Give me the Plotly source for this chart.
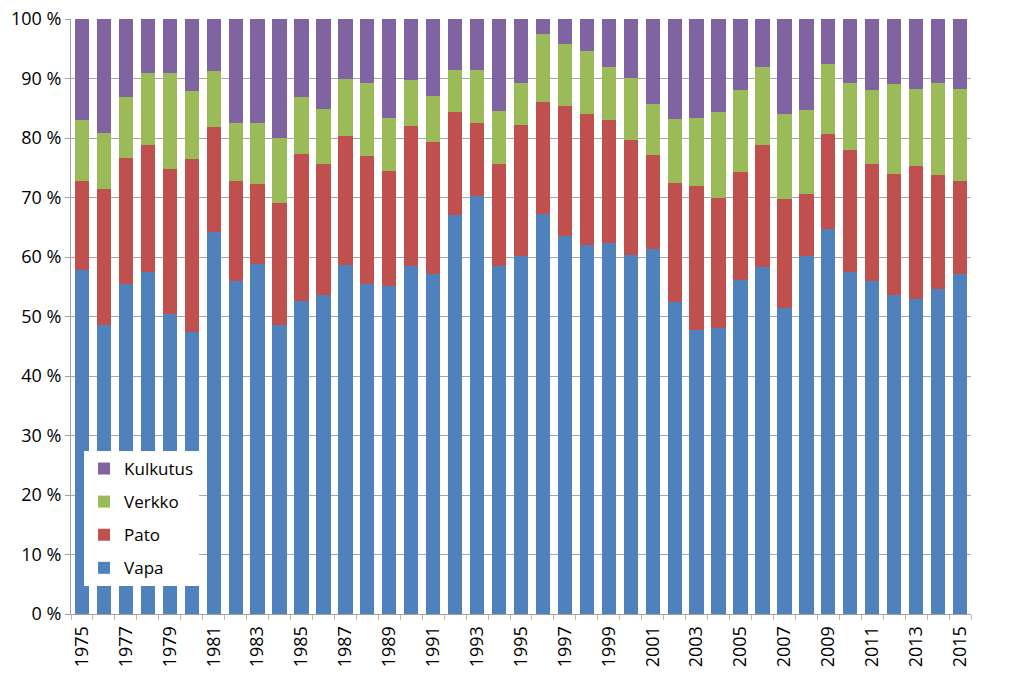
import plotly.graph_objects as go

years = list(range(1975, 2016))
# cumulative tops (percent)
vapa_top = [57.8, 48.5, 55.5, 57.5, 50.5, 47.4, 64.2, 56.0, 58.9, 48.5,
            52.6, 53.6, 58.6, 55.5, 55.1, 58.5, 57.1, 67.1, 70.3, 58.5,
            60.2, 67.2, 63.6, 62.0, 62.3, 60.3, 61.3, 52.5, 47.7, 48.0,
            56.1, 58.4, 51.5, 60.2, 64.7, 57.5, 55.9, 53.6, 52.9, 54.6, 57.1]
pato_top = [72.8, 71.4, 76.6, 78.8, 74.8, 76.4, 81.9, 72.8, 72.3, 69.0,
            77.3, 75.7, 80.4, 76.9, 74.5, 82.0, 79.4, 84.3, 82.6, 75.7,
            82.2, 86.1, 85.3, 84.1, 83.0, 79.7, 77.2, 72.5, 72.0, 70.0,
            74.3, 78.8, 69.8, 70.6, 80.6, 78.0, 75.7, 73.9, 75.3, 73.7, 72.8]
verkko_top = [83.0, 80.8, 86.9, 90.9, 90.9, 87.9, 91.3, 82.6, 82.5, 80.0,
              86.9, 84.9, 89.9, 89.3, 83.4, 89.7, 87.1, 91.4, 91.4, 84.5,
              89.3, 97.4, 95.8, 94.6, 91.9, 90.1, 85.7, 83.2, 83.4, 84.4,
              88.1, 91.9, 84.0, 84.7, 92.4, 89.2, 88.1, 89.1, 88.2, 89.3, 88.2]

vapa = vapa_top
pato = [p - v for p, v in zip(pato_top, vapa_top)]
verkko = [g - p for g, p in zip(verkko_top, pato_top)]
kulkutus = [100 - g for g in verkko_top]

series = [("Vapa", vapa, "#4F81BD", 4), ("Pato", pato, "#C0504D", 3),
          ("Verkko", verkko, "#9BBB59", 2), ("Kulkutus", kulkutus, "#8064A2", 1)]

fig = go.Figure()
for name, vals, col, rank in series:
    fig.add_trace(go.Bar(x=years, y=vals, name=name, marker_color=col,
                         marker_line_width=0, width=0.65, legendgroup=name,
                         legendrank=rank))

font = dict(family="Open Sans, Noto Sans, sans-serif", size=18, color="#000000")
fig.update_layout(
    barmode="stack",
    width=1024, height=685,
    margin=dict(l=71, r=53, t=19, b=71, autoexpand=False),
    paper_bgcolor="white", plot_bgcolor="white",
    font=font,
    showlegend=True,
    legend=dict(x=0.0145, y=0.274, xanchor="left", yanchor="top",
                bgcolor="white", borderwidth=0, traceorder="grouped",
                tracegroupgap=8, font=dict(size=17)),
    xaxis=dict(range=[1974.5, 2015.5], tickmode="array",
               tickvals=years[::2], ticktext=[str(y) for y in years[::2]],
               tickangle=-90, ticks="", showgrid=False, automargin=False,
               showline=True, linecolor="#A0A0A0", linewidth=1,
               ticklabeloverflow="allow",
               minor=dict(tickmode="linear", tick0=1974.5, dtick=1,
                          ticks="outside", ticklen=5, tickcolor="#C8B89A",
                          showgrid=False),
               ticklabelstandoff=4),
    yaxis=dict(range=[0, 100], dtick=10, ticksuffix=" %", showgrid=True,
               gridcolor="#A6A6A6", gridwidth=1, zeroline=False, automargin=False,
               showline=True, linecolor="#A0A0A0", linewidth=1,
               ticklabeloverflow="allow",
               ticks="outside", ticklen=5, tickcolor="#A0A0A0"),
)

fig.write_html("out.html", config={"displayModeBar": False},
               post_script="document.body.style.margin='0';document.body.style.padding='0';")
